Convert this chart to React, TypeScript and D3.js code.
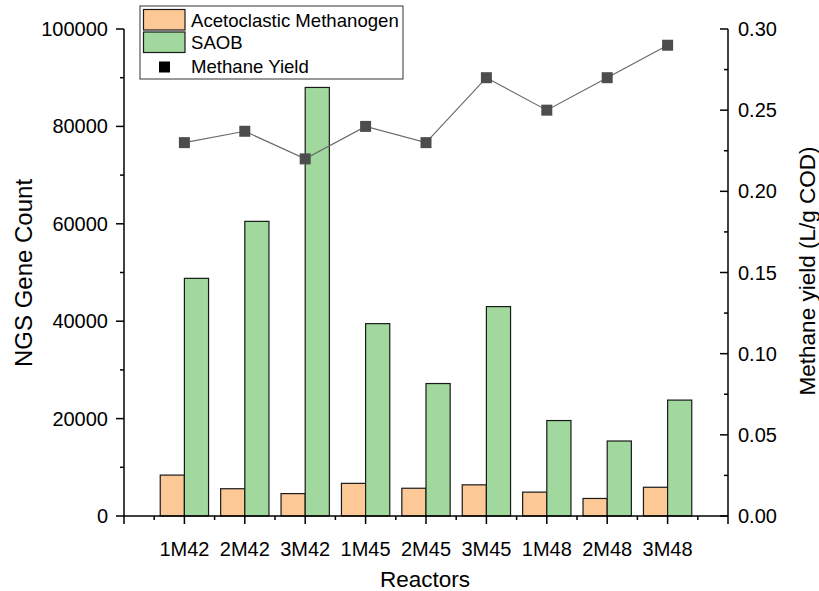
import React from "react";
import * as d3 from "d3";

const categories = ["1M42", "2M42", "3M42", "1M45", "2M45", "3M45", "1M48", "2M48", "3M48"];
const acetoclastic = [8400, 5600, 4600, 6700, 5700, 6400, 4900, 3600, 5900];
const saob = [48800, 60500, 88000, 39500, 27200, 43000, 19600, 15400, 23800];
const methaneYield = [0.23, 0.237, 0.22, 0.24, 0.23, 0.27, 0.25, 0.27, 0.29];
const leftTicks = [0, 20000, 40000, 60000, 80000, 100000];
const leftMinor = [10000, 30000, 50000, 70000, 90000];
const rightTicks = [0, 0.05, 0.1, 0.15, 0.2, 0.25, 0.3];
const rightMinor = [0.025, 0.075, 0.125, 0.175, 0.225, 0.275];
const seriesNames = ["Acetoclastic Methanogen", "SAOB", "Methane Yield"];

const W = 819;
const H = 591;
const FONT = "'Liberation Sans', Arial, Helvetica, sans-serif";
const ORANGE = "#FCC996";
const GREEN = "#A0D89E";
const MARK = "#4d4d4d";

export default function App() {
  const x = d3.scaleLinear().domain([0, 10]).range([124, 728]);
  const yL = d3.scaleLinear().domain([0, 100000]).range([516, 29]);
  const yR = d3.scaleLinear().domain([0, 0.3]).range([516, 29]);
  const bw = 0.4;
  const majorX = d3.range(0, 11);
  const minorX = d3.range(0, 10).map((d) => d + 0.5);
  const line = d3
    .line<number>()
    .x((_, i) => x(i + 1))
    .y((d) => yR(d));
  const y0 = yL(0);

  return (
    <svg
      width={W}
      height={H}
      style={{ position: "absolute", left: 0, top: 0, background: "#fff" }}
      fontFamily={FONT}
    >
      <rect x={0} y={0} width={W} height={H} fill="#fff" />
      {/* bars */}
      {categories.map((c, i) => (
        <g key={c}>
          <rect
            x={x(i + 1 - bw)}
            y={yL(acetoclastic[i])}
            width={x(i + 1) - x(i + 1 - bw)}
            height={y0 - yL(acetoclastic[i])}
            fill={ORANGE}
            stroke="#1a1a1a"
            strokeWidth={1.2}
          />
          <rect
            x={x(i + 1)}
            y={yL(saob[i])}
            width={x(i + 1 + bw) - x(i + 1)}
            height={y0 - yL(saob[i])}
            fill={GREEN}
            stroke="#1a1a1a"
            strokeWidth={1.2}
          />
        </g>
      ))}
      {/* methane yield line */}
      <path d={line(methaneYield) || ""} fill="none" stroke="#6a6a6a" strokeWidth={1.2} />
      {methaneYield.map((v, i) => (
        <rect key={i} x={x(i + 1) - 5.5} y={yR(v) - 5.5} width={11} height={11} fill={MARK} />
      ))}

      {/* axes */}
      <g stroke="#000" strokeWidth={1.5} fill="none">
        <line x1={x(0)} x2={x(10)} y1={y0} y2={y0} />
        <line x1={x(0)} x2={x(0)} y1={yL(100000)} y2={y0} />
        <line x1={x(10)} x2={x(10)} y1={yR(0.3)} y2={y0} />
        {majorX.map((d) => (
          <line key={"mx" + d} x1={x(d)} x2={x(d)} y1={y0} y2={y0 + 8} />
        ))}
        {minorX.map((d) => (
          <line key={"nx" + d} x1={x(d)} x2={x(d)} y1={y0} y2={y0 + 4} />
        ))}
        {leftTicks.map((d) => (
          <line key={"ly" + d} x1={x(0) - 8} x2={x(0)} y1={yL(d)} y2={yL(d)} />
        ))}
        {leftMinor.map((d) => (
          <line key={"lm" + d} x1={x(0) - 4} x2={x(0)} y1={yL(d)} y2={yL(d)} />
        ))}
        {rightTicks.map((d) => (
          <line key={"ry" + d} x1={x(10) - 8} x2={x(10)} y1={yR(d)} y2={yR(d)} />
        ))}
        {rightMinor.map((d) => (
          <line key={"rm" + d} x1={x(10) - 4} x2={x(10)} y1={yR(d)} y2={yR(d)} />
        ))}
      </g>

      {/* tick labels */}
      <g fontSize={20} fill="#000">
        {leftTicks.map((d) => (
          <text key={"lt" + d} x={108} y={yL(d)} textAnchor="end" dominantBaseline="central">
            {d3.format("d")(d)}
          </text>
        ))}
        {rightTicks.map((d) => (
          <text key={"rt" + d} x={738} y={yR(d)} textAnchor="start" dominantBaseline="central">
            {d3.format(".2f")(d)}
          </text>
        ))}
        {categories.map((c, i) => (
          <text key={"ct" + c} x={x(i + 1)} y={556} textAnchor="middle">
            {c}
          </text>
        ))}
      </g>

      {/* axis titles */}
      <g fontSize={22.5} fill="#000">
        <text x={425} y={587} textAnchor="middle">Reactors</text>
        <text transform="translate(32,273) rotate(-90)" textAnchor="middle" fontSize={24}>NGS Gene Count</text>
        <text transform="translate(815,271) rotate(-90)" textAnchor="middle">Methane yield (L/g COD)</text>
      </g>

      {/* legend */}
      <g>
        <rect x={140} y={6} width={263} height={73} fill="#fff" stroke="#333" strokeWidth={1} />
        <rect x={143.5} y={9.5} width={41.5} height={20.5} fill={ORANGE} stroke="#1a1a1a" strokeWidth={1.2} />
        <rect x={143.5} y={32} width={41.5} height={20.5} fill={GREEN} stroke="#1a1a1a" strokeWidth={1.2} />
        <rect x={159} y={61.5} width={11} height={11} fill="#000" />
        <g fontSize={18.6} fill="#000">
          <text x={191} y={26.7}>{seriesNames[0]}</text>
          <text x={191} y={48.7}>{seriesNames[1]}</text>
          <text x={191} y={72.7}>{seriesNames[2]}</text>
        </g>
      </g>
    </svg>
  );
}
